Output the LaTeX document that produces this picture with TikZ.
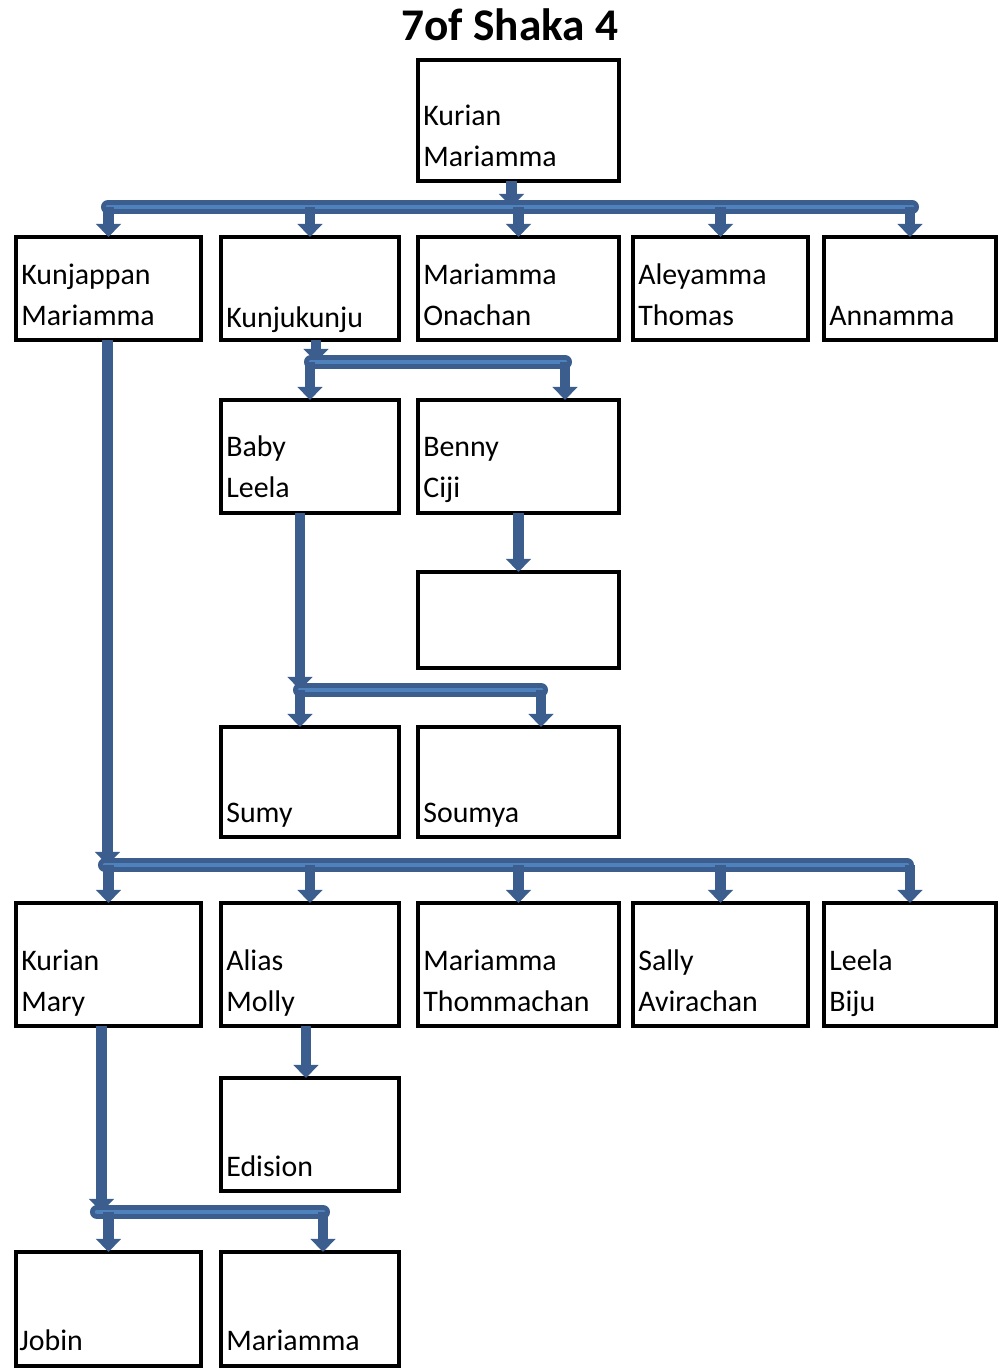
\documentclass[tikz,border=0pt]{standalone}
\usepackage{fontspec}
\setmainfont{Carlito}
\usetikzlibrary{arrows.meta,positioning}
\definecolor{linkblue}{RGB}{59,94,142}
\definecolor{linklight}{RGB}{79,129,189}

\begin{document}
\begin{tikzpicture}[x=0.02cm, y=-0.02cm,
    person/.style = {draw, line width=2.8pt, anchor=north west, inner sep=0pt, outer sep=0pt},
    who/.style = {anchor=south west, inner sep=0pt, align=left, font=\fontsize{17}{23.3}\selectfont},
    link/.style = {draw=linkblue, line width=5.8pt, -{Triangle[width=14pt,length=7.5pt]}},
    bus/.style = {draw=linkblue, line width=2.7pt, double=linklight, double distance=2.6pt, line cap=round}]
    \useasboundingbox (0,0) rectangle (1000,1370);
    \node [anchor=base, font=\fontsize{25.8}{30}\selectfont\bfseries] (title) at (510,40) {7of Shaka 4};

    % generation 1
    \draw node [person, minimum width=4.02cm, minimum height=2.42cm] (kurian) at (418,60) {};
    \node [who] (kurianT) at ([shift={(5,-2)}]kurian.south west) {Kurian\\Mariamma\strut};

    % generation 2
    \draw node [person, minimum width=3.70cm, minimum height=2.06cm] (kunjappan) at (16,237) {};
    \draw node [person, minimum width=3.56cm, minimum height=2.06cm] (kunjukunju) at (221,237) {};
    \draw node [person, minimum width=4.02cm, minimum height=2.06cm] (onachan) at (418,237) {};
    \draw node [person, minimum width=3.50cm, minimum height=2.06cm] (aleyamma) at (633,237) {};
    \draw node [person, minimum width=3.44cm, minimum height=2.06cm] (annamma) at (824,237) {};
    \node [who] (kunjappanT) at ([shift={(5,-2)}]kunjappan.south west) {Kunjappan\\Mariamma\strut};
    \node [who] (kunjukunjuT) at ([shift={(5,0)}]kunjukunju.south west) {Kunjukunju\strut};
    \node [who] (onachanT) at ([shift={(5,-2)}]onachan.south west) {Mariamma\\Onachan\strut};
    \node [who] (aleyammaT) at ([shift={(5,-2)}]aleyamma.south west) {Aleyamma\\Thomas\strut};
    \node [who] (annammaT) at ([shift={(5,-2)}]annamma.south west) {Annamma\strut};

    % kunjukunju line
    \draw node [person, minimum width=3.56cm, minimum height=2.26cm] (babyleela) at (221,400) {};
    \draw node [person, minimum width=4.02cm, minimum height=2.26cm] (bennyciji) at (418,400) {};
    \node [who] (babyleelaT) at ([shift={(5,-3)}]babyleela.south west) {Baby\\Leela\strut};
    \node [who] (bennycijiT) at ([shift={(5,-3)}]bennyciji.south west) {Benny\\Ciji\strut};
    \draw node [person, minimum width=4.02cm, minimum height=1.92cm] (cijichild) at (418,572) {};
    \draw node [person, minimum width=3.56cm, minimum height=2.20cm] (sumy) at (221,727) {};
    \draw node [person, minimum width=4.02cm, minimum height=2.20cm] (soumya) at (418,727) {};
    \node [who] (sumyT) at ([shift={(5,-2)}]sumy.south west) {Sumy\strut};
    \node [who] (soumyaT) at ([shift={(5,-2)}]soumya.south west) {Soumya\strut};

    % kunjappan line
    \draw node [person, minimum width=3.70cm, minimum height=2.46cm] (kurianmary) at (16,903) {};
    \draw node [person, minimum width=3.56cm, minimum height=2.46cm] (aliasmolly) at (221,903) {};
    \draw node [person, minimum width=4.02cm, minimum height=2.46cm] (thommachan) at (418,903) {};
    \draw node [person, minimum width=3.50cm, minimum height=2.46cm] (avirachan) at (633,903) {};
    \draw node [person, minimum width=3.44cm, minimum height=2.46cm] (leelabiju) at (824,903) {};
    \node [who] (kurianmaryT) at ([shift={(5,-2)}]kurianmary.south west) {Kurian\\Mary\strut};
    \node [who] (aliasmollyT) at ([shift={(5,-2)}]aliasmolly.south west) {Alias\\Molly\strut};
    \node [who] (thommachanT) at ([shift={(5,-2)}]thommachan.south west) {Mariamma\\Thommachan\strut};
    \node [who] (avirachanT) at ([shift={(5,-2)}]avirachan.south west) {Sally\\Avirachan\strut};
    \node [who] (leelabijuT) at ([shift={(5,-2)}]leelabiju.south west) {Leela\\Biju\strut};
    \draw node [person, minimum width=3.56cm, minimum height=2.26cm] (edision) at (221,1078) {};
    \node [who] (edisionT) at ([shift={(5,-2)}]edision.south west) {Edision\strut};
    \draw node [person, minimum width=3.70cm, minimum height=2.28cm] (jobin) at (16,1252) {};
    \draw node [person, minimum width=3.56cm, minimum height=2.28cm] (mariamma) at (221,1252) {};
    \node [who] (jobinT) at ([shift={(3,-3)}]jobin.south west) {Jobin\strut};
    \node [who] (mariammaT) at ([shift={(5,-3)}]mariamma.south west) {Mariamma\strut};

    % bus ends
    \coordinate (busAl) at (108,207);   \coordinate (busAr) at (912,207);
    \coordinate (busBl) at (311,362);   \coordinate (busBr) at (565,362);
    \coordinate (busCl) at (300,690);   \coordinate (busCr) at (541,690);
    \coordinate (busDl) at (105,865);   \coordinate (busDr) at (907,865);
    \coordinate (busEl) at (97,1212);   \coordinate (busEr) at (323,1212);

    % stems from the parents
    \draw [link] ([xshift=-0.14cm]kurian.south) -- ([xshift=-0.14cm]kurian.south |- busAl);
    \draw [link] ([xshift=0.12cm]kunjukunju.south) -- ([xshift=0.12cm]kunjukunju.south |- busBl);
    \draw [link] ([xshift=-0.2cm]babyleela.south) -- ([xshift=-0.2cm]babyleela.south |- busCl);
    \draw [link] ([xshift=-0.02cm]kunjappan.south) -- ([xshift=-0.02cm]kunjappan.south |- busDl);
    \draw [link] ([xshift=-0.14cm]kurianmary.south) -- ([xshift=-0.14cm]kurianmary.south |- busEl);
    \draw [link] (bennyciji.south) -- (cijichild.north);
    \draw [link] ([xshift=-0.08cm]aliasmolly.south) -- ([xshift=-0.08cm]edision.north);

    % buses
    \draw [bus] (busAl) -- (busAr);
    \draw [bus] (busBl) -- (busBr);
    \draw [bus] (busCl) -- (busCr);
    \draw [bus] (busDl) -- (busDr);
    \draw [bus] (busEl) -- (busEr);

    % drops to the children
    \foreach \kid in {kunjappan,kunjukunju,onachan,aleyamma,annamma}
      \draw [link] (\kid.north |- busAl) -- (\kid.north);
    \draw [link] (babyleela.north |- busBl) -- (babyleela.north);
    \draw [link] (busBr) -- (busBr |- bennyciji.north);
    \draw [link] (busCl) -- (busCl |- sumy.north);
    \draw [link] (busCr) -- (busCr |- soumya.north);
    \foreach \kid in {kurianmary,aliasmolly,thommachan,avirachan,leelabiju}
      \draw [link] (\kid.north |- busDl) -- (\kid.north);
    \draw [link] (jobin.north |- busEl) -- (jobin.north);
    \draw [link] (busEr) -- (busEr |- mariamma.north);
\end{tikzpicture}
\end{document}
